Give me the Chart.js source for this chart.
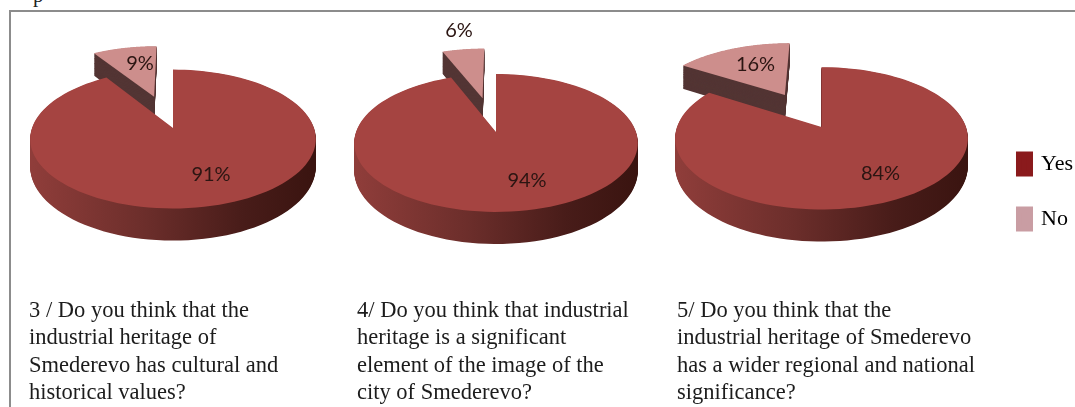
<!DOCTYPE html>
<html>
<head>
<meta charset="utf-8">
<title>Smederevo industrial heritage</title>
<script src="https://cdn.jsdelivr.net/npm/chart.js@4"></script>
<style>
  html, body { margin: 0; padding: 0; background: #fff; overflow: hidden; }
  #page { position: relative; width: 1075px; height: 407px; overflow: hidden; }
  #frame { position: absolute; left: 9px; top: 10px; right: -5px; bottom: -5px; border-top: 2px solid #8c8c8c; border-left: 2px solid #8c8c8c; }
  #corte { position: absolute; left: 33px; top: -17px; font: 21px "Liberation Serif", serif; color: #222; }
  canvas { position: absolute; }
  .pergunta { position: absolute; top: 296px; margin: 0; font: 22.5px/27.3px "Liberation Serif", serif; color: #1c1c1c; white-space: pre; filter: blur(0.35px); }
</style>
</head>
<body>
<div id="page">
  <div id="corte">p</div>
  <div id="frame"></div>
  <canvas id="g1" width="340" height="256" style="left:3px;top:0"></canvas>
  <canvas id="g2" width="340" height="264" style="left:326px;top:0"></canvas>
  <canvas id="g3" width="426" height="272" style="left:657px;top:-9px"></canvas>
  <p class="pergunta" id="q1" style="left:29px"></p>
  <p class="pergunta" id="q2" style="left:357px"></p>
  <p class="pergunta" id="q3" style="left:677px"></p>
</div>
<script>
const categorias = ["Yes", "No"];
const valores1 = [91, 9];
const valores2 = [94, 6];
const valores3 = [84, 16];
const rotulos1 = ["91%", "9%"];
const rotulos2 = ["94%", "6%"];
const rotulos3 = ["84%", "16%"];
const perguntas1 = ["3 / Do you think that the", "industrial heritage of", "Smederevo has cultural and", "historical values?"];
const perguntas2 = ["4/ Do you think that industrial", "heritage is a significant", "element of the image of the", "city of Smederevo?"];
const perguntas3 = ["5/ Do you think that the", "industrial heritage of Smederevo", "has a wider regional and national", "significance?"];

const corTopo = ["#a54441", "#cd8e8c"];
const corLegenda = ["#8a1a1c", "#c99da3"];
const corFaceNo = "#533534";
const PERSP = 0.159, ACHATA = 0.48, PROF = 27;

// projeta um ponto do disco (plano) para a tela, com perspectiva
function projetar(el, X, Y, t) {
  const w = 1 - PERSP * Y / el.outerRadius;
  return [el.x + X / w, el.y + ACHATA * Y / w + t * PROF / w];
}

function caminhoFatia(ctx, el, t) {
  const off = el.options.offset || 0;
  const meio = (el.startAngle + el.endAngle) / 2;
  const ox = Math.cos(meio) * off, oy = Math.sin(meio) * off;
  const r = el.outerRadius;
  ctx.beginPath();
  ctx.moveTo(...projetar(el, ox, oy, t));
  for (let i = 0; i <= 120; i++) {
    const a = el.startAngle + (el.endAngle - el.startAngle) * i / 120;
    ctx.lineTo(...projetar(el, ox + r * Math.cos(a), oy + r * Math.sin(a), t));
  }
  ctx.closePath();
}

const pizza3d = {
  id: "pizza3d",
  beforeDatasetsDraw(chart) {
    const ctx = chart.ctx;
    const arcos = chart.getDatasetMeta(0).data;
    const el0 = arcos[0];
    const grad = ctx.createLinearGradient(el0.x - el0.outerRadius, 0, el0.x + el0.outerRadius, 0);
    grad.addColorStop(0, "#8f3d3a");
    grad.addColorStop(0.4, "#6c2e2b");
    grad.addColorStop(0.75, "#481c19");
    grad.addColorStop(1, "#3a1410");
    ctx.save();
    // a fatia destacada fica atras da maior
    [1, 0].forEach(i => {
      const el = arcos[i];
      for (let d = 40; d >= 1; d--) {
        caminhoFatia(ctx, el, d / 40);
        ctx.fillStyle = i === 1 ? corFaceNo : grad;
        ctx.fill();
      }
      caminhoFatia(ctx, el, 0);
      ctx.fillStyle = corTopo[i];
      ctx.fill();
    });
    ctx.restore();
    return false;
  },
  afterDraw(chart, args, opts) {
    const ctx = chart.ctx;
    const el0 = chart.getDatasetMeta(0).data[0];
    ctx.save();
    ctx.font = '20px Lato, "Open Sans", sans-serif';
    ctx.fillStyle = "#2b1512";
    ctx.textAlign = "center";
    ctx.textBaseline = "middle";
    opts.rotulos.forEach((txt, i) => {
      ctx.fillText(txt, el0.x + opts.posicoes[i][0], el0.y + opts.posicoes[i][1]);
    });
    ctx.restore();
  }
};

function criarPizza(id, valores, rotulos, raio, destaque, posicoes, comLegenda) {
  return new Chart(document.getElementById(id), {
    type: "pie",
    data: {
      labels: categorias,
      datasets: [{ data: valores, backgroundColor: corTopo, borderWidth: 0, offset: [0, destaque] }]
    },
    options: {
      responsive: false,
      animation: false,
      radius: raio,
      layout: { padding: 0 },
      events: [],
      plugins: {
        tooltip: { enabled: false },
        pizza3d: { rotulos: rotulos, posicoes: posicoes },
        legend: {
          display: comLegenda,
          position: "right",
          align: "end",
          labels: {
            boxWidth: 11,
            boxHeight: 19,
            padding: 33,
            color: "#222",
            font: { family: "Liberation Serif", size: 22 },
            // borda grossa deixa o quadrado maior sem afastar o texto
            generateLabels: () => categorias.map((c, i) => ({
              text: c, fillStyle: corLegenda[i], strokeStyle: corLegenda[i], lineWidth: 6, index: i
            }))
          }
        }
      }
    },
    plugins: [pizza3d]
  });
}

criarPizza("g1", valores1, rotulos1, 141, 73, [[38, 47], [-33, -64]], false);
criarPizza("g2", valores2, rotulos2, 140, 78, [[31, 49], [-37, -101]], false);
criarPizza("g3", valores3, rotulos3, 144.5, 82, [[59, 47], [-66, -62]], true);

document.getElementById("q1").textContent = perguntas1.join("\n");
document.getElementById("q2").textContent = perguntas2.join("\n");
document.getElementById("q3").textContent = perguntas3.join("\n");
</script>
</body>
</html>
